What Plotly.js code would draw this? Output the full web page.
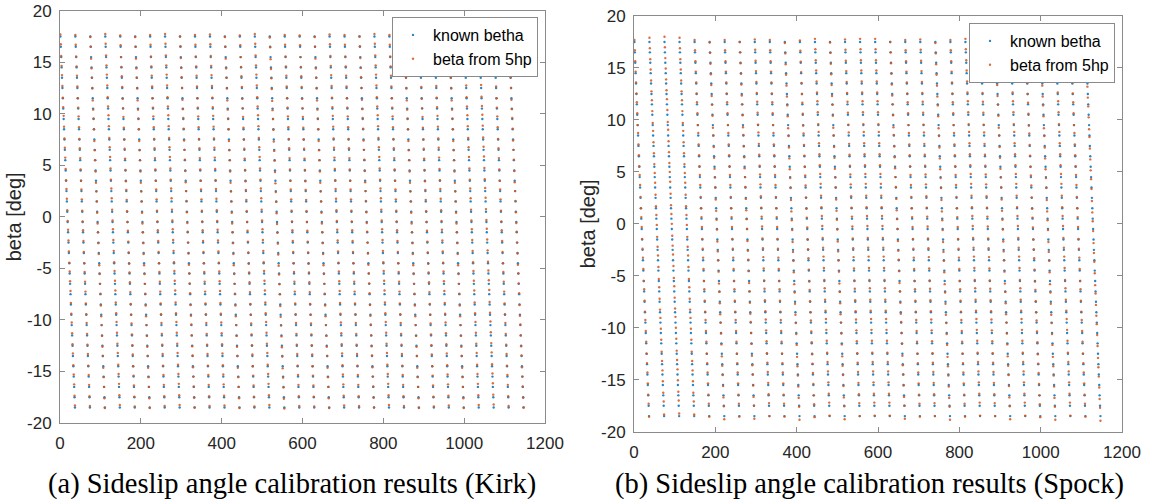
<!DOCTYPE html>
<html>
<head>
<meta charset="utf-8">
<script src="https://cdn.plot.ly/plotly-3.0.1.min.js"></script>
<style>
  html, body { margin: 0; padding: 0; background: #fff; }
  #chart { width: 1154px; height: 504px; }
</style>
</head>
<body>
<div id="chart"></div>
<script>
// ---- data ----
// beta set-points of one sweep (deg), swept from top to bottom
const betaLevels = [17.5, 16.5, 15.5, 14.5, 13.5, 12.5, 11.5, 10.5, 9.5, 8.5, 7.5, 6.5, 5.5, 4.5, 3.5, 2.5, 1.5, 0.5,
  -0.5, -1.5, -2.5, -3.5, -4.5, -5.5, -6.5, -7.5, -8.5, -9.5, -10.5, -11.5, -12.5, -13.5, -14.5, -15.5, -16.5, -17.5, -18.5];

// estimated 5hp error (deg) per sweep (31 sweeps) and per set-point level
const kirkSweepError = [0.15, 0.10, -0.10, 0.20, 0.05, -0.10, 0.10, 0.20, -0.05, 0.10, 0.15, -0.10, 0.05, 0.20, -0.15, 0.10,
  0.05, -0.10, 0.15, 0.10, -0.05, 0.20, 0.10, -0.10, 0.05, 0.15, -0.10, 0.20, 0.25, 0.10, -0.05];
const kirkLevelError = [0.05, 0.10, -0.05, 0.00, 0.10, 0.05, -0.10, 0.00, 0.15, 0.10, -0.05, 0.05, 0.10, 0.00, -0.10, 0.05,
  0.10, 0.00, -0.05, 0.10, 0.05, 0.00, -0.10, 0.05, 0.10, 0.15, 0.00, -0.05, 0.10, 0.05, 0.00, 0.10, -0.05, 0.05, 0.10, 0.00, 0.05];

const spockSweepError = [0.10, 0.30, 0.40, 0.30, 0.10, -0.15, 0.10, -0.10, 0.15, 0.10, -0.20, 0.05, 0.20, -0.15, 0.15, 0.20,
  0.20, -0.10, 0.10, 0.15, -0.20, 0.10, 0.20, 0.15, -0.15, 0.20, 0.05, -0.20, 0.20, 0.10, -0.30];
const spockLevelError = [0.10, 0.10, 0.05, 0.05, 0.00, -0.05, 0.10, 0.05, -0.10, 0.15, 0.05, 0.00, -0.05, 0.10, 0.15, 0.00,
  -0.10, 0.05, 0.10, -0.05, 0.00, 0.15, 0.05, -0.10, 0.10, 0.00, -0.05, 0.15, 0.10, 0.05, -0.10, 0.00, 0.10, 0.05, -0.05, 0.10, -0.15];

const seriesNames = ['known betha', 'beta from 5hp'];
const captions = ['(a) Sideslip angle calibration results (Kirk)', '(b) Sideslip angle calibration results (Spock)'];
const xTicks = [0, 200, 400, 600, 800, 1000, 1200];
const yTicks = [-20, -15, -10, -5, 0, 5, 10, 15, 20];

// ---- build series ----
function buildSeries(sweepErr, levelErr) {
  const idx = [], known = [], est = [];
  let n = 1;
  for (let s = 0; s < sweepErr.length; s++) {
    for (let k = 0; k < betaLevels.length; k++) {
      idx.push(n++);
      known.push(betaLevels[k]);
      est.push(betaLevels[k] + sweepErr[s] + levelErr[k]);
    }
  }
  return { idx, known, est };
}
const kirk = buildSeries(kirkSweepError, kirkLevelError);
const spock = buildSeries(spockSweepError, spockLevelError);

const BLUE = '#0072BD', ORANGE = '#D95319';
const MS = 2.4;
const FONT = 'Liberation Sans, Arial, Helvetica, sans-serif';
const SERIF = 'Liberation Serif, Times New Roman, serif';

function tr(x, y, name, color, xa, ya, leg) {
  return { type: 'scatter', mode: 'markers', x, y, name, xaxis: xa, yaxis: ya, legend: leg,
    marker: { color, size: MS, opacity: 0.85, line: { width: 0 } }, hoverinfo: 'x+y' };
}
const data = [
  tr(kirk.idx, kirk.known, seriesNames[0], BLUE, 'x', 'y', 'legend'),
  tr(kirk.idx, kirk.est, seriesNames[1], ORANGE, 'x', 'y', 'legend'),
  tr(spock.idx, spock.known, seriesNames[0], BLUE, 'x2', 'y2', 'legend2'),
  tr(spock.idx, spock.est, seriesNames[1], ORANGE, 'x2', 'y2', 'legend2')
];

const W = 1154, H = 504;
const px = v => v / W, py = v => 1 - v / H;

function xaxis(d, anchor) {
  return { domain: d, anchor, range: [0, 1200], tickvals: xTicks, ticktext: xTicks.map(String),
    ticks: 'inside', ticklen: 5, tickcolor: '#8a8a8a', mirror: 'ticks', showline: true, linecolor: '#8a8a8a',
    linewidth: 1, showgrid: false, zeroline: false, ticklabelstandoff: 5,
    tickfont: { family: FONT, size: 17, color: '#262626' } };
}
function yaxis(d, anchor) {
  return { domain: d, anchor, range: [-20, 20], tickvals: yTicks, ticktext: yTicks.map(String),
    ticks: 'inside', ticklen: 5, tickcolor: '#8a8a8a', mirror: 'ticks', showline: true, linecolor: '#8a8a8a',
    linewidth: 1, showgrid: false, zeroline: false, ticklabelstandoff: 4,
    tickfont: { family: FONT, size: 17, color: '#262626' },
    title: { text: 'beta [deg]', font: { family: FONT, size: 20, color: '#262626' }, standoff: 0 } };
}
function legend(xr, yt) {
  return { x: px(xr), y: py(yt), xanchor: 'right', yanchor: 'top', bgcolor: '#ffffff',
    bordercolor: '#8a8a8a', borderwidth: 1, font: { family: FONT, size: 16, color: '#000' },
    tracegroupgap: 0, itemclick: false, itemwidth: 30 };
}

const layout = {
  width: W, height: H, margin: { l: 0, r: 0, t: 0, b: 0 },
  paper_bgcolor: '#fff', plot_bgcolor: '#fff',
  showlegend: true,
  xaxis: xaxis([px(60), px(545)], 'y'),
  yaxis: yaxis([py(423), py(10.7)], 'x'),
  xaxis2: xaxis([px(634), px(1122)], 'y2'),
  yaxis2: yaxis([py(431.7), py(16)], 'x2'),
  legend: legend(538, 17),
  legend2: legend(1115, 23),
  annotations: [
    { text: captions[0], x: px(292), y: py(484), xref: 'paper', yref: 'paper', showarrow: false,
      xanchor: 'center', yanchor: 'middle', font: { family: SERIF, size: 28.5, color: '#000' } },
    { text: captions[1], x: px(869), y: py(484), xref: 'paper', yref: 'paper', showarrow: false,
      xanchor: 'center', yanchor: 'middle', font: { family: SERIF, size: 28.5, color: '#000' } }
  ]
};

Plotly.newPlot('chart', data, layout, { staticPlot: true, displayModeBar: false });
</script>
</body>
</html>
